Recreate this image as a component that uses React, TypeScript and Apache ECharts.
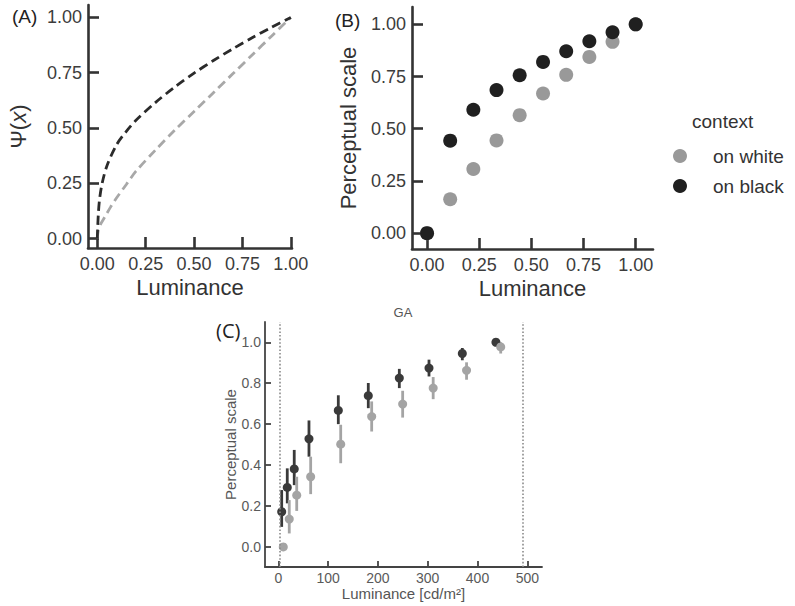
import React, { useEffect, useRef } from "react";
import * as echarts from "echarts";

// (A) model curves Ψ(x)
const curveBlackX = [0.0, 0.002, 0.006, 0.012, 0.025, 0.05, 0.1, 0.15, 0.2, 0.3, 0.4, 0.5, 0.6, 0.7, 0.8, 0.9, 1.0];
const curveBlackY = [0.0, 0.05, 0.12, 0.18, 0.25, 0.33, 0.425, 0.485, 0.535, 0.615, 0.685, 0.748, 0.805, 0.858, 0.908, 0.955, 1.0];
const curveWhiteX = [0.0, 0.005, 0.02, 0.04, 0.07, 0.1, 0.15, 0.2, 0.3, 0.4, 0.5, 0.6, 0.7, 0.8, 0.9, 1.0];
const curveWhiteY = [0.0, 0.035, 0.07, 0.1, 0.145, 0.185, 0.245, 0.305, 0.4, 0.49, 0.575, 0.66, 0.745, 0.83, 0.915, 1.0];

// (B) perceptual scale vs. normalised luminance
const stimLum = [0.0, 0.111, 0.222, 0.333, 0.444, 0.556, 0.667, 0.778, 0.889, 1.0];
const scaleOnWhite = [0.0, 0.162, 0.307, 0.444, 0.565, 0.669, 0.758, 0.844, 0.916, 1.0];
const scaleOnBlack = [0.0, 0.443, 0.591, 0.685, 0.756, 0.82, 0.871, 0.919, 0.962, 1.0];

// (C) observer GA, luminance in cd/m²
const gaBlackLum = [6.8, 18, 32, 61.6, 120.5, 180.7, 243, 302.6, 369.5, 437];
const gaBlackMean = [0.172, 0.291, 0.381, 0.528, 0.667, 0.739, 0.825, 0.874, 0.945, 1.0];
const gaBlackLo = [0.098, 0.213, 0.302, 0.441, 0.6, 0.678, 0.776, 0.833, 0.912, 1.0];
const gaBlackHi = [0.278, 0.384, 0.474, 0.618, 0.741, 0.801, 0.87, 0.915, 0.972, 1.0];
const gaWhiteLum = [10, 22, 37, 65, 125.3, 187.5, 249.7, 311, 378, 446.6];
const gaWhiteMean = [0.0, 0.136, 0.253, 0.343, 0.502, 0.637, 0.698, 0.776, 0.863, 0.977];
const gaWhiteLo = [0.0, 0.066, 0.176, 0.258, 0.409, 0.564, 0.632, 0.722, 0.817, 0.945];
const gaWhiteHi = [0.0, 0.229, 0.343, 0.441, 0.597, 0.711, 0.763, 0.83, 0.902, 1.0];
const monitorRange = [2, 490];

const ticksAB = [0, 0.25, 0.5, 0.75, 1.0];
const ticksCX = [0, 100, 200, 300, 400, 500];
const ticksCY = [0, 0.2, 0.4, 0.6, 0.8, 1.0];

const FONT = "Liberation Sans, Arial, sans-serif";
const DARK = "#202020";
const GREY = "#999999";
const C_DARK = "#3a3a3a";
const C_GREY = "#a4a4a4";

const zip = (xs: number[], ys: number[]) => xs.map((x, i) => [x, ys[i]]);

function bigAxis(
  gridIndex: number,
  min: number,
  max: number,
  name: string,
  nameGap: number,
  isX: boolean,
  nameStyle: any = {}
) {
  return {
    type: "value",
    gridIndex,
    min,
    max,
    name,
    nameLocation: "middle",
    nameGap,
    nameTextStyle: { fontFamily: FONT, fontSize: 22, color: "#333", ...nameStyle },
    axisLine: { show: true, onZero: false, lineStyle: { color: "#333", width: 2.6 } },
    axisTick: {
      show: true,
      inside: true,
      length: 11,
      customValues: ticksAB,
      lineStyle: { color: "#333", width: 2.6 },
    },
    axisLabel: {
      show: true,
      customValues: ticksAB,
      formatter: (v: number) => v.toFixed(2),
      fontFamily: FONT,
      fontSize: 18,
      color: "#3c3c3c",
      margin: isX ? 7 : 6,
    },
    splitLine: { show: false },
  };
}

function smallAxis(
  gridIndex: number,
  min: number,
  max: number,
  name: string,
  nameGap: number,
  ticks: number[],
  digits: number
) {
  return {
    type: "value",
    gridIndex,
    min,
    max,
    name,
    nameLocation: "middle",
    nameGap,
    nameTextStyle: { fontFamily: FONT, fontSize: 15, color: "#555" },
    axisLine: { show: true, onZero: false, lineStyle: { color: "#444", width: 1.8 } },
    axisTick: {
      show: true,
      inside: true,
      length: 6,
      customValues: ticks,
      lineStyle: { color: "#444", width: 1.8 },
    },
    axisLabel: {
      show: true,
      customValues: ticks,
      formatter: (v: number) => v.toFixed(digits),
      fontFamily: FONT,
      fontSize: 14,
      color: "#5a5a5a",
      margin: 4,
    },
    splitLine: { show: false },
  };
}

function errorBars(name: string, xs: number[], lo: number[], hi: number[], color: string) {
  return {
    name,
    type: "custom",
    xAxisIndex: 2,
    yAxisIndex: 2,
    data: xs.map((x, i) => [x, lo[i], hi[i]]),
    encode: { x: 0, y: [1, 2] },
    renderItem: (_params: any, api: any) => {
      const x = api.value(0);
      const p1 = api.coord([x, api.value(1)]);
      const p2 = api.coord([x, api.value(2)]);
      return {
        type: "line",
        shape: { x1: p1[0], y1: p1[1], x2: p2[0], y2: p2[1] },
        style: { stroke: color, lineWidth: 2.8 },
      };
    },
  };
}

function dots(name: string, axis: number, xs: number[], ys: number[], size: number, color: string) {
  return {
    name,
    type: "scatter",
    xAxisIndex: axis,
    yAxisIndex: axis,
    data: zip(xs, ys),
    symbol: "circle",
    symbolSize: size,
    itemStyle: { color, opacity: 1 },
  };
}

export default function App() {
  const ref = useRef<HTMLDivElement>(null);

  useEffect(() => {
    if (!ref.current) return;
    const chart = echarts.init(ref.current, null, { renderer: "svg" });

    const option: any = {
      animation: false,
      backgroundColor: "#fff",
      grid: [
        { left: 88, top: 5, width: 204, height: 243 },
        { left: 412, top: 7, width: 241, height: 242 },
        { left: 265, top: 322, width: 277, height: 245 },
      ],
      xAxis: [
        bigAxis(0, -0.048, 1.006, "Luminance", 28, true),
        bigAxis(1, -0.072, 1.083, "Luminance", 28, true),
        smallAxis(2, -26.7, 529.5, "Luminance [cd/m²]", 18, ticksCX, 0),
      ],
      yAxis: [
        bigAxis(0, -0.042, 1.056, "{n|Ψ(}{i|x}{n|)}", 59, false, {
          rich: {
            n: { fontFamily: FONT, fontSize: 22, color: "#333" },
            i: { fontFamily: FONT, fontSize: 22, color: "#333", fontStyle: "italic" },
          },
        }),
        bigAxis(1, -0.076, 1.083, "Perceptual scale", 53, false),
        smallAxis(2, -0.098, 1.099, "Perceptual scale", 24, ticksCY, 1),
      ],
      legend: {
        data: ["on white", "on black"],
        orient: "vertical",
        left: 668,
        top: 141,
        icon: "circle",
        itemWidth: 14,
        itemHeight: 14,
        itemGap: 10,
        selectedMode: false,
        textStyle: {
          fontFamily: FONT,
          fontSize: 19,
          color: "#333",
          lineHeight: 20,
          padding: [0, 0, 0, 21],
        },
      },
      graphic: [
        { type: "text", left: 12, top: 7, style: { text: "(A)", font: `19px ${FONT}`, fill: "#222" } },
        { type: "text", left: 335, top: 11, style: { text: "(B)", font: `19px ${FONT}`, fill: "#222" } },
        { type: "text", left: 216, top: 320, style: { text: "(C)", font: `20px "Open Sans", sans-serif`, fill: "#222" } },
        { type: "text", left: 692, top: 112, style: { text: "context", font: `19px ${FONT}`, fill: "#333" } },
        {
          type: "text",
          x: 403,
          y: 312,
          style: { text: "GA", font: `13px ${FONT}`, fill: "#555", align: "center", verticalAlign: "middle" },
        },
      ],
      series: [
        {
          name: "Ψ on white",
          type: "line",
          xAxisIndex: 0,
          yAxisIndex: 0,
          data: zip(curveWhiteX, curveWhiteY),
          showSymbol: false,
          smooth: 0.3,
          lineStyle: { color: "#a8a8a8", width: 2.8, type: [9, 5] },
        },
        {
          name: "Ψ on black",
          type: "line",
          xAxisIndex: 0,
          yAxisIndex: 0,
          data: zip(curveBlackX, curveBlackY),
          showSymbol: false,
          smooth: 0.3,
          lineStyle: { color: "#2b2b2b", width: 2.8, type: [9, 5] },
        },
        dots("on white", 1, stimLum, scaleOnWhite, 14, GREY),
        dots("on black", 1, stimLum, scaleOnBlack, 14, DARK),
        errorBars("GA on black range", gaBlackLum, gaBlackLo, gaBlackHi, C_DARK),
        dots("GA on black", 2, gaBlackLum, gaBlackMean, 9, C_DARK),
        errorBars("GA on white range", gaWhiteLum, gaWhiteLo, gaWhiteHi, C_GREY),
        {
          ...dots("GA on white", 2, gaWhiteLum, gaWhiteMean, 9, C_GREY),
          markLine: {
            silent: true,
            symbol: ["none", "none"],
            label: { show: false },
            lineStyle: { color: "#8a8a8a", width: 1.6, type: [1.6, 2] },
            data: monitorRange.map((v) => ({ xAxis: v })),
          },
        },
      ],
    };

    chart.setOption(option);
    return () => chart.dispose();
  }, []);

  return (
    <div
      ref={ref}
      style={{ position: "fixed", left: 0, top: 0, width: 795, height: 606, background: "#fff" }}
    />
  );
}
